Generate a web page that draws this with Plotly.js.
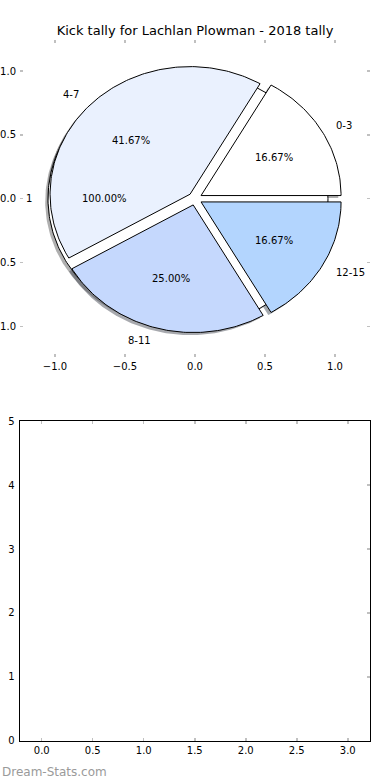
<!DOCTYPE html>
<html>
<head>
<meta charset="utf-8">
<script src="https://cdn.plot.ly/plotly-3.0.1.min.js"></script>
<style>html,body{margin:0;padding:0;background:#fff;}#chart{width:390px;height:780px;}</style>
</head>
<body>
<div id="chart"></div>
<script>
// ---- data ----
const categories = ['0-3', '4-7', '8-11', '12-15'];
const kicks = [2, 5, 3, 2];
const totalLabels = ['1'];
const totalValues = [1];
const pieTickVals = [-1.0, -0.5, 0.0, 0.5, 1.0];
const emptyXTicks = [0.0, 0.5, 1.0, 1.5, 2.0, 2.5, 3.0];
const emptyYTicks = [0, 1, 2, 3, 4, 5];
const titleText = 'Kick tally for Lachlan Plowman - 2018 tally';
const watermark = 'Dream-Stats.com';

// ---- styles ----
const sliceColors = ['#ffffff', '#eaf1fe', '#c5d8fd', '#b3d5fe'];
const totalColors = ['#ffffff'];
const EXPLODE = 0.05, RADIUS = 1.0, LABEL_D = 1.1, PCT_D = 0.6, SH = -0.02;
const FONT = 'DejaVu Sans, sans-serif';

function wedges(values, colors) {
  const tot = values.reduce((a, b) => a + b, 0);
  let start = 0;
  return values.map((v, i) => {
    const span = 360 * v / tot;
    const t1 = start, t2 = start + span;
    start = t2;
    const mid = (t1 + t2) / 2 * Math.PI / 180;
    return {
      t1, t2, full: Math.abs(span - 360) < 1e-9,
      cx: EXPLODE * Math.cos(mid), cy: EXPLODE * Math.sin(mid),
      mx: Math.cos(mid), my: Math.sin(mid),
      pct: (100 * v / tot).toFixed(2) + '%', color: colors[i]
    };
  });
}
function path(w, dx, dy) {
  const xs = [], ys = [];
  if (!w.full) { xs.push(w.cx + dx); ys.push(w.cy + dy); }
  const n = Math.max(2, Math.ceil((w.t2 - w.t1) / 1));
  for (let k = 0; k <= n; k++) {
    const a = (w.t1 + (w.t2 - w.t1) * k / n) * Math.PI / 180;
    xs.push(w.cx + dx + RADIUS * Math.cos(a));
    ys.push(w.cy + dy + RADIUS * Math.sin(a));
  }
  xs.push(xs[0]); ys.push(ys[0]);
  return {xs, ys};
}

const totalW = wedges(totalValues, totalColors);
const sliceW = wedges(kicks, sliceColors);
const allW = totalW.concat(sliceW);

const traces = [];
// shadows (below everything)
allW.forEach(w => {
  const p = path(w, SH, SH);
  const c = w.color;
  const r = Math.round(parseInt(c.substr(1, 2), 16) * 0.3);
  const g = Math.round(parseInt(c.substr(3, 2), 16) * 0.3);
  const b = Math.round(parseInt(c.substr(5, 2), 16) * 0.3);
  traces.push({type: 'scatter', mode: 'lines', x: p.xs, y: p.ys, fill: 'toself',
    fillcolor: `rgba(${r},${g},${b},0.45)`, line: {width: 0, color: 'rgba(0,0,0,0)'},
    hoverinfo: 'skip', showlegend: false, xaxis: 'x', yaxis: 'y'});
});
// wedges
allW.forEach(w => {
  const p = path(w, 0, 0);
  traces.push({type: 'scatter', mode: 'lines', x: p.xs, y: p.ys, fill: 'toself',
    fillcolor: w.color, line: {width: 1, color: '#000'},
    hoverinfo: 'skip', showlegend: false, xaxis: 'x', yaxis: 'y'});
});

const annotations = [];
function addLabels(ws, labels) {
  ws.forEach((w, i) => {
    const lx = w.cx + LABEL_D * w.mx, ly = w.cy + LABEL_D * w.my;
    annotations.push({xref: 'x', yref: 'y', x: lx, y: ly, text: labels[i], showarrow: false,
      xanchor: lx > 0 ? 'left' : 'right', yanchor: 'middle', font: {family: FONT, size: 10, color: '#000'}});
    annotations.push({xref: 'x', yref: 'y', x: w.cx + PCT_D * w.mx, y: w.cy + PCT_D * w.my, text: w.pct,
      showarrow: false, xanchor: 'center', yanchor: 'middle', font: {family: FONT, size: 10, color: '#000'}});
  });
}
addLabels(totalW, totalLabels);
addLabels(sliceW, categories);
annotations.push({xref: 'paper', yref: 'paper', x: 0, y: 0.0103, text: watermark, showarrow: false,
  xanchor: 'left', yanchor: 'middle', font: {family: FONT, size: 12, color: '#9a9a9a'}});

const tickFont = {family: FONT, size: 10, color: '#000'};
const fmt = v => v.toFixed(1).replace('-', '\u2212');

const layout = {
  width: 390, height: 780,
  margin: {l: 0, r: 0, t: 0, b: 0},
  paper_bgcolor: '#fff', plot_bgcolor: 'rgba(0,0,0,0)',
  showlegend: false,
  title: {text: titleText, font: {family: FONT, size: 13, color: '#000'},
    x: 0.5, xref: 'paper', xanchor: 'center', y: 0.9615, yref: 'paper', yanchor: 'middle'},
  xaxis: {domain: [0.0513, 0.9487], range: [-1.25, 1.25], anchor: 'y',
    tickvals: pieTickVals, ticktext: pieTickVals.map(fmt),
    ticks: 'inside', ticklen: 3, tickwidth: 1.5, tickcolor: '#c0c0c0', mirror: 'ticks',
    ticklabelstandoff: 2,
    showline: false, showgrid: false, zeroline: false, tickfont: tickFont, fixedrange: true},
  yaxis: {domain: [0.5423, 0.9481], range: [-1.24, 1.24], anchor: 'x',
    tickvals: pieTickVals, ticktext: pieTickVals.map(fmt),
    ticks: 'inside', ticklen: 3, tickwidth: 1.5, tickcolor: '#c0c0c0', mirror: 'ticks',
    ticklabelstandoff: 3,
    showline: false, showgrid: false, zeroline: false, tickfont: tickFont, fixedrange: true},
  xaxis2: {domain: [0.05, 0.9487], range: [-0.218, 3.218], anchor: 'y2',
    tickvals: emptyXTicks, ticktext: emptyXTicks.map(fmt),
    ticks: 'inside', ticklen: 3, tickwidth: 1.5, tickcolor: '#c0c0c0', mirror: 'ticks',
    showline: true, linecolor: '#000', linewidth: 1,
    showgrid: false, zeroline: false, tickfont: tickFont, fixedrange: true},
  yaxis2: {domain: [0.0504, 0.4599], range: [0, 5], anchor: 'x2',
    tickvals: emptyYTicks, ticktext: emptyYTicks.map(String),
    ticks: '', mirror: true, ticklabelstandoff: 2,
    showline: true, linecolor: '#000', linewidth: 1,
    showgrid: false, zeroline: false, tickfont: tickFont, fixedrange: true},
  yaxis3: {domain: [0.0504, 0.4599], range: [0, 5], anchor: 'x2', overlaying: 'y2', side: 'right',
    tickvals: emptyYTicks, showticklabels: false,
    ticks: 'inside', ticklen: 3, tickwidth: 1.5, tickcolor: '#c0c0c0',
    showline: false, showgrid: false, zeroline: false, fixedrange: true},
  annotations: annotations
};

// invisible anchors so the lower axes render
traces.push({type: 'scatter', mode: 'markers', x: [], y: [], xaxis: 'x2', yaxis: 'y2', showlegend: false, hoverinfo: 'skip'});
traces.push({type: 'scatter', mode: 'markers', x: [], y: [], xaxis: 'x2', yaxis: 'y3', showlegend: false, hoverinfo: 'skip'});

Plotly.newPlot('chart', traces, layout, {displayModeBar: false, staticPlot: true});
</script>
</body>
</html>
